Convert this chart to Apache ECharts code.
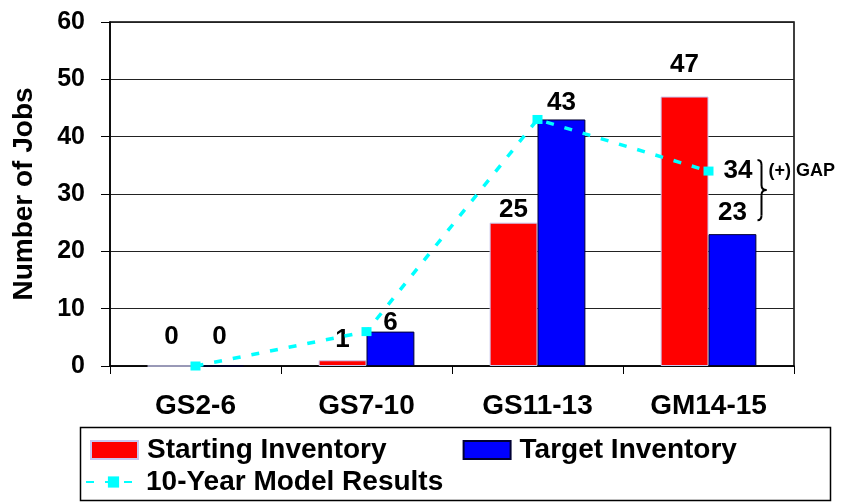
<!DOCTYPE html>
<html>
<head>
<meta charset="utf-8">
<script src="https://cdn.jsdelivr.net/npm/echarts@6/dist/echarts.min.js"></script>
<style>
  html, body { margin: 0; padding: 0; background: #fff; }
  #chart { width: 841px; height: 502px; }
</style>
</head>
<body>
<div id="chart"></div>
<script>
// Job counts per grade band
const categories = ['GS2-6', 'GS7-10', 'GS11-13', 'GM14-15'];
const startingInventory = [0, 1, 25, 47];
const targetInventory = [0, 6, 43, 23];
const modelResults = [0, 6, 43, 34];
const yTickValues = [0, 10, 20, 30, 40, 50, 60];

const FONT = "'Liberation Sans', Arial, sans-serif";

// extra space between bar tops and their value labels
const startLift = [16, 7, 0, 19];
const targetLift = [16, -4, 4, 8];

function barData(values, lifts) {
  return values.map((v, i) => ({ value: v, label: { distance: lifts[i] } }));
}

const chart = echarts.init(document.getElementById('chart'), null, { renderer: 'canvas' });

const legendText = { color: '#000', fontWeight: 'bold', fontSize: 28, fontFamily: FONT };

const option = {
  animation: false,
  backgroundColor: '#ffffff',
  textStyle: { fontFamily: FONT },
  grid: {
    left: 110, right: 47, top: 22, bottom: 136,
    show: true, borderColor: '#000', borderWidth: 1.5, backgroundColor: 'transparent'
  },
  xAxis: {
    type: 'category',
    data: categories,
    axisLine: { lineStyle: { color: '#000', width: 1.5 } },
    axisTick: { show: true, length: 8, lineStyle: { color: '#000', width: 1 } },
    axisLabel: { color: '#000', fontWeight: 'bold', fontSize: 28, margin: 26, fontFamily: FONT }
  },
  yAxis: {
    type: 'value',
    min: yTickValues[0],
    max: yTickValues[yTickValues.length - 1],
    interval: yTickValues[1] - yTickValues[0],
    name: 'Number of Jobs',
    nameLocation: 'middle',
    nameGap: 72,
    nameTextStyle: { color: '#000', fontWeight: 'bold', fontSize: 28, fontFamily: FONT },
    axisLine: { show: true, lineStyle: { color: '#000', width: 1.5 } },
    axisTick: { show: true, length: 9, lineStyle: { color: '#000', width: 1 } },
    axisLabel: { color: '#000', fontWeight: 'bold', fontSize: 25, margin: 25, fontFamily: FONT },
    splitLine: { show: true, lineStyle: { color: '#222', width: 1 } }
  },
  legend: [
    {
      data: [
        { name: 'Starting Inventory', icon: 'rect' },
        { name: 'Target Inventory', icon: 'rect' }
      ],
      left: 90, top: 436,
      orient: 'horizontal',
      itemWidth: 47, itemHeight: 18, itemGap: 76,
      padding: 0,
      textStyle: Object.assign({ padding: [0, 0, 0, 4] }, legendText)
    },
    {
      data: ['10-Year Model Results'],
      left: 85, top: 468,
      itemWidth: 55, itemHeight: 14,
      padding: 0,
      textStyle: legendText
    }
  ],
  series: [
    {
      name: 'Starting Inventory',
      type: 'bar',
      data: barData(startingInventory, startLift),
      barWidth: '28%',
      barGap: '0%',
      itemStyle: { color: '#ff0000', borderColor: '#c8c8f0', borderWidth: 1 },
      label: { show: true, position: 'top', color: '#000', fontWeight: 'bold', fontSize: 26, fontFamily: FONT }
    },
    {
      name: 'Target Inventory',
      type: 'bar',
      data: barData(targetInventory, targetLift),
      barWidth: '28%',
      barGap: '0%',
      itemStyle: { color: '#0000ff', borderColor: '#000033', borderWidth: 1 },
      label: { show: true, position: 'top', color: '#000', fontWeight: 'bold', fontSize: 26, fontFamily: FONT }
    },
    {
      name: '10-Year Model Results',
      type: 'line',
      data: modelResults.map((v, i) => i === modelResults.length - 1
        ? { value: v, label: { show: true, position: 'right', distance: 10, color: '#000', fontWeight: 'bold', fontSize: 26, fontFamily: FONT } }
        : v),
      symbol: 'rect',
      symbolSize: [10, 9],
      itemStyle: { color: '#00ffff' },
      lineStyle: { color: '#00ffff', width: 3.5, type: [8, 11] },
      label: { show: false },
      z: 5
    }
  ]
};

chart.setOption(option);

// Gap annotation: a brace between the model result and the target bar of the last band
const lastCat = categories[categories.length - 1];
const pModel = chart.convertToPixel({ gridIndex: 0 }, [lastCat, modelResults[modelResults.length - 1]]);
const pTarget = chart.convertToPixel({ gridIndex: 0 }, [lastCat, targetInventory[targetInventory.length - 1]]);
const bx = pModel[0] + 49;
const bTop = pModel[1] - 11;
const bBottom = pTarget[1] - 14;
const bMid = (bTop + bBottom) / 2;
const braceStyle = { stroke: '#000', lineWidth: 2, fill: 'none' };

function curve(x1, y1, cx, cy, x2, y2) {
  return { type: 'bezierCurve', shape: { x1, y1, x2, y2, cpx1: cx, cpy1: cy }, style: braceStyle, z: 10 };
}
function seg(x1, y1, x2, y2) {
  return { type: 'line', shape: { x1, y1, x2, y2 }, style: braceStyle, z: 10 };
}

chart.setOption({
  graphic: [
    {
      type: 'rect',
      shape: { x: 80.5, y: 427.5, width: 750, height: 73 },
      style: { fill: 'none', stroke: '#000', lineWidth: 1.5 },
      z: 0
    },
    curve(bx, bTop, bx + 4, bTop, bx + 4, bTop + 5),
    seg(bx + 4, bTop + 5, bx + 4, bMid - 5),
    curve(bx + 4, bMid - 5, bx + 4, bMid, bx + 9, bMid),
    curve(bx + 9, bMid, bx + 4, bMid, bx + 4, bMid + 5),
    seg(bx + 4, bMid + 5, bx + 4, bBottom - 5),
    curve(bx + 4, bBottom - 5, bx + 4, bBottom, bx, bBottom),
    {
      type: 'text',
      x: bx + 11,
      y: pModel[1],
      style: {
        text: '(+) GAP',
        fill: '#000',
        font: "bold 18px 'Liberation Sans', Arial, sans-serif",
        verticalAlign: 'middle'
      },
      z: 10
    }
  ]
});
</script>
</body>
</html>
